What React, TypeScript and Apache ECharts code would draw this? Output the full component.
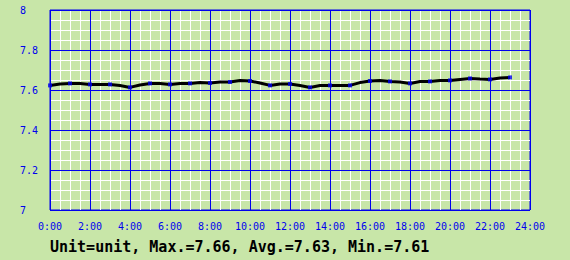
import React, { useEffect, useRef } from "react";
import * as echarts from "echarts";

// Time in hours (half-hourly samples) and measured values
const times = [
  0, 0.5, 1, 1.5, 2, 2.5, 3, 3.5, 4, 4.5, 5, 5.5, 6, 6.5, 7, 7.5, 8, 8.5, 9, 9.5,
  10, 10.5, 11, 11.5, 12, 12.5, 13, 13.5, 14, 14.5, 15, 15.5, 16, 16.5, 17, 17.5,
  18, 18.5, 19, 19.5, 20, 20.5, 21, 21.5, 22, 22.5, 23,
];
const values = [
  7.623, 7.63, 7.633, 7.633, 7.628, 7.628, 7.628, 7.622, 7.613, 7.625, 7.633,
  7.633, 7.628, 7.633, 7.633, 7.637, 7.635, 7.64, 7.64, 7.647, 7.645, 7.635,
  7.623, 7.63, 7.63, 7.622, 7.613, 7.622, 7.623, 7.623, 7.623, 7.637, 7.645,
  7.647, 7.643, 7.64, 7.633, 7.642, 7.643, 7.648, 7.648, 7.653, 7.658, 7.655,
  7.653, 7.66, 7.663,
];
const xTickLabels = [
  "0:00", "2:00", "4:00", "6:00", "8:00", "10:00", "12:00",
  "14:00", "16:00", "18:00", "20:00", "22:00", "24:00",
];
const summaryText = "Unit=unit, Max.=7.66, Avg.=7.63, Min.=7.61";

const BG = "#C8E6A8";
const BLUE = "#0000EE";

export default function App() {
  const ref = useRef<HTMLDivElement>(null);
  useEffect(() => {
    document.body.style.margin = "0";
    const chart = echarts.init(ref.current!, undefined, { renderer: "svg" });
    const lineData = times.map((t, i) => [t, values[i]]);
    const markerData = lineData.filter((d) => Number.isInteger(d[0]));
    chart.setOption({
      animation: false,
      backgroundColor: BG,
      grid: {
        left: 50,
        top: 10,
        width: 480,
        height: 200,
        show: true,
        backgroundColor: BG,
        borderColor: BLUE,
        borderWidth: 1,
      },
      xAxis: [
        {
          type: "value",
          min: 0,
          max: 24,
          interval: 0.5,
          z: 0,
          axisLine: { show: false },
          axisTick: { show: false },
          axisLabel: { show: false },
          splitLine: { show: true, lineStyle: { color: "#ffffff", width: 1 } },
        },
        {
          type: "value",
          min: 0,
          max: 24,
          interval: 2,
          z: 1,
          position: "bottom",
          axisLine: { show: false },
          axisTick: { show: false },
          axisLabel: {
            show: true,
            color: BLUE,
            fontFamily: "DejaVu Sans Mono",
            fontSize: 10,
            margin: 11,
            formatter: (v: number) => xTickLabels[Math.round(v / 2)],
          },
          splitLine: { show: true, lineStyle: { color: BLUE, width: 1 } },
        },
      ],
      yAxis: [
        {
          type: "value",
          min: 7,
          max: 8,
          interval: 0.05,
          z: 0,
          axisLine: { show: false },
          axisTick: { show: false },
          axisLabel: { show: false },
          splitLine: { show: true, lineStyle: { color: "#ffffff", width: 1 } },
        },
        {
          type: "value",
          min: 7,
          max: 8,
          interval: 0.2,
          z: 1,
          position: "left",
          axisLine: { show: false },
          axisTick: { show: false },
          axisLabel: {
            show: true,
            color: BLUE,
            fontFamily: "DejaVu Sans Mono",
            fontSize: 10,
            margin: 30,
            align: "left",
            verticalAlign: "middle",
            padding: [4, 0, 0, 0],
          },
          splitLine: { show: true, lineStyle: { color: BLUE, width: 1 } },
        },
      ],
      series: [
        {
          type: "line",
          xAxisIndex: 1,
          yAxisIndex: 1,
          data: lineData,
          showSymbol: false,
          z: 5,
          lineStyle: { color: "#000000", width: 3 },
        },
        {
          type: "scatter",
          xAxisIndex: 1,
          yAxisIndex: 1,
          data: markerData,
          symbol: "rect",
          symbolSize: 4,
          z: 6,
          itemStyle: { color: BLUE },
        },
      ],
      graphic: [
        {
          type: "text",
          left: 50,
          top: 239,
          style: {
            text: summaryText,
            fill: "#000000",
            font: "bold 15px 'DejaVu Sans Mono'",
          },
        },
      ],
    });
    return () => chart.dispose();
  }, []);
  return <div ref={ref} style={{ width: 570, height: 260 }} />;
}
